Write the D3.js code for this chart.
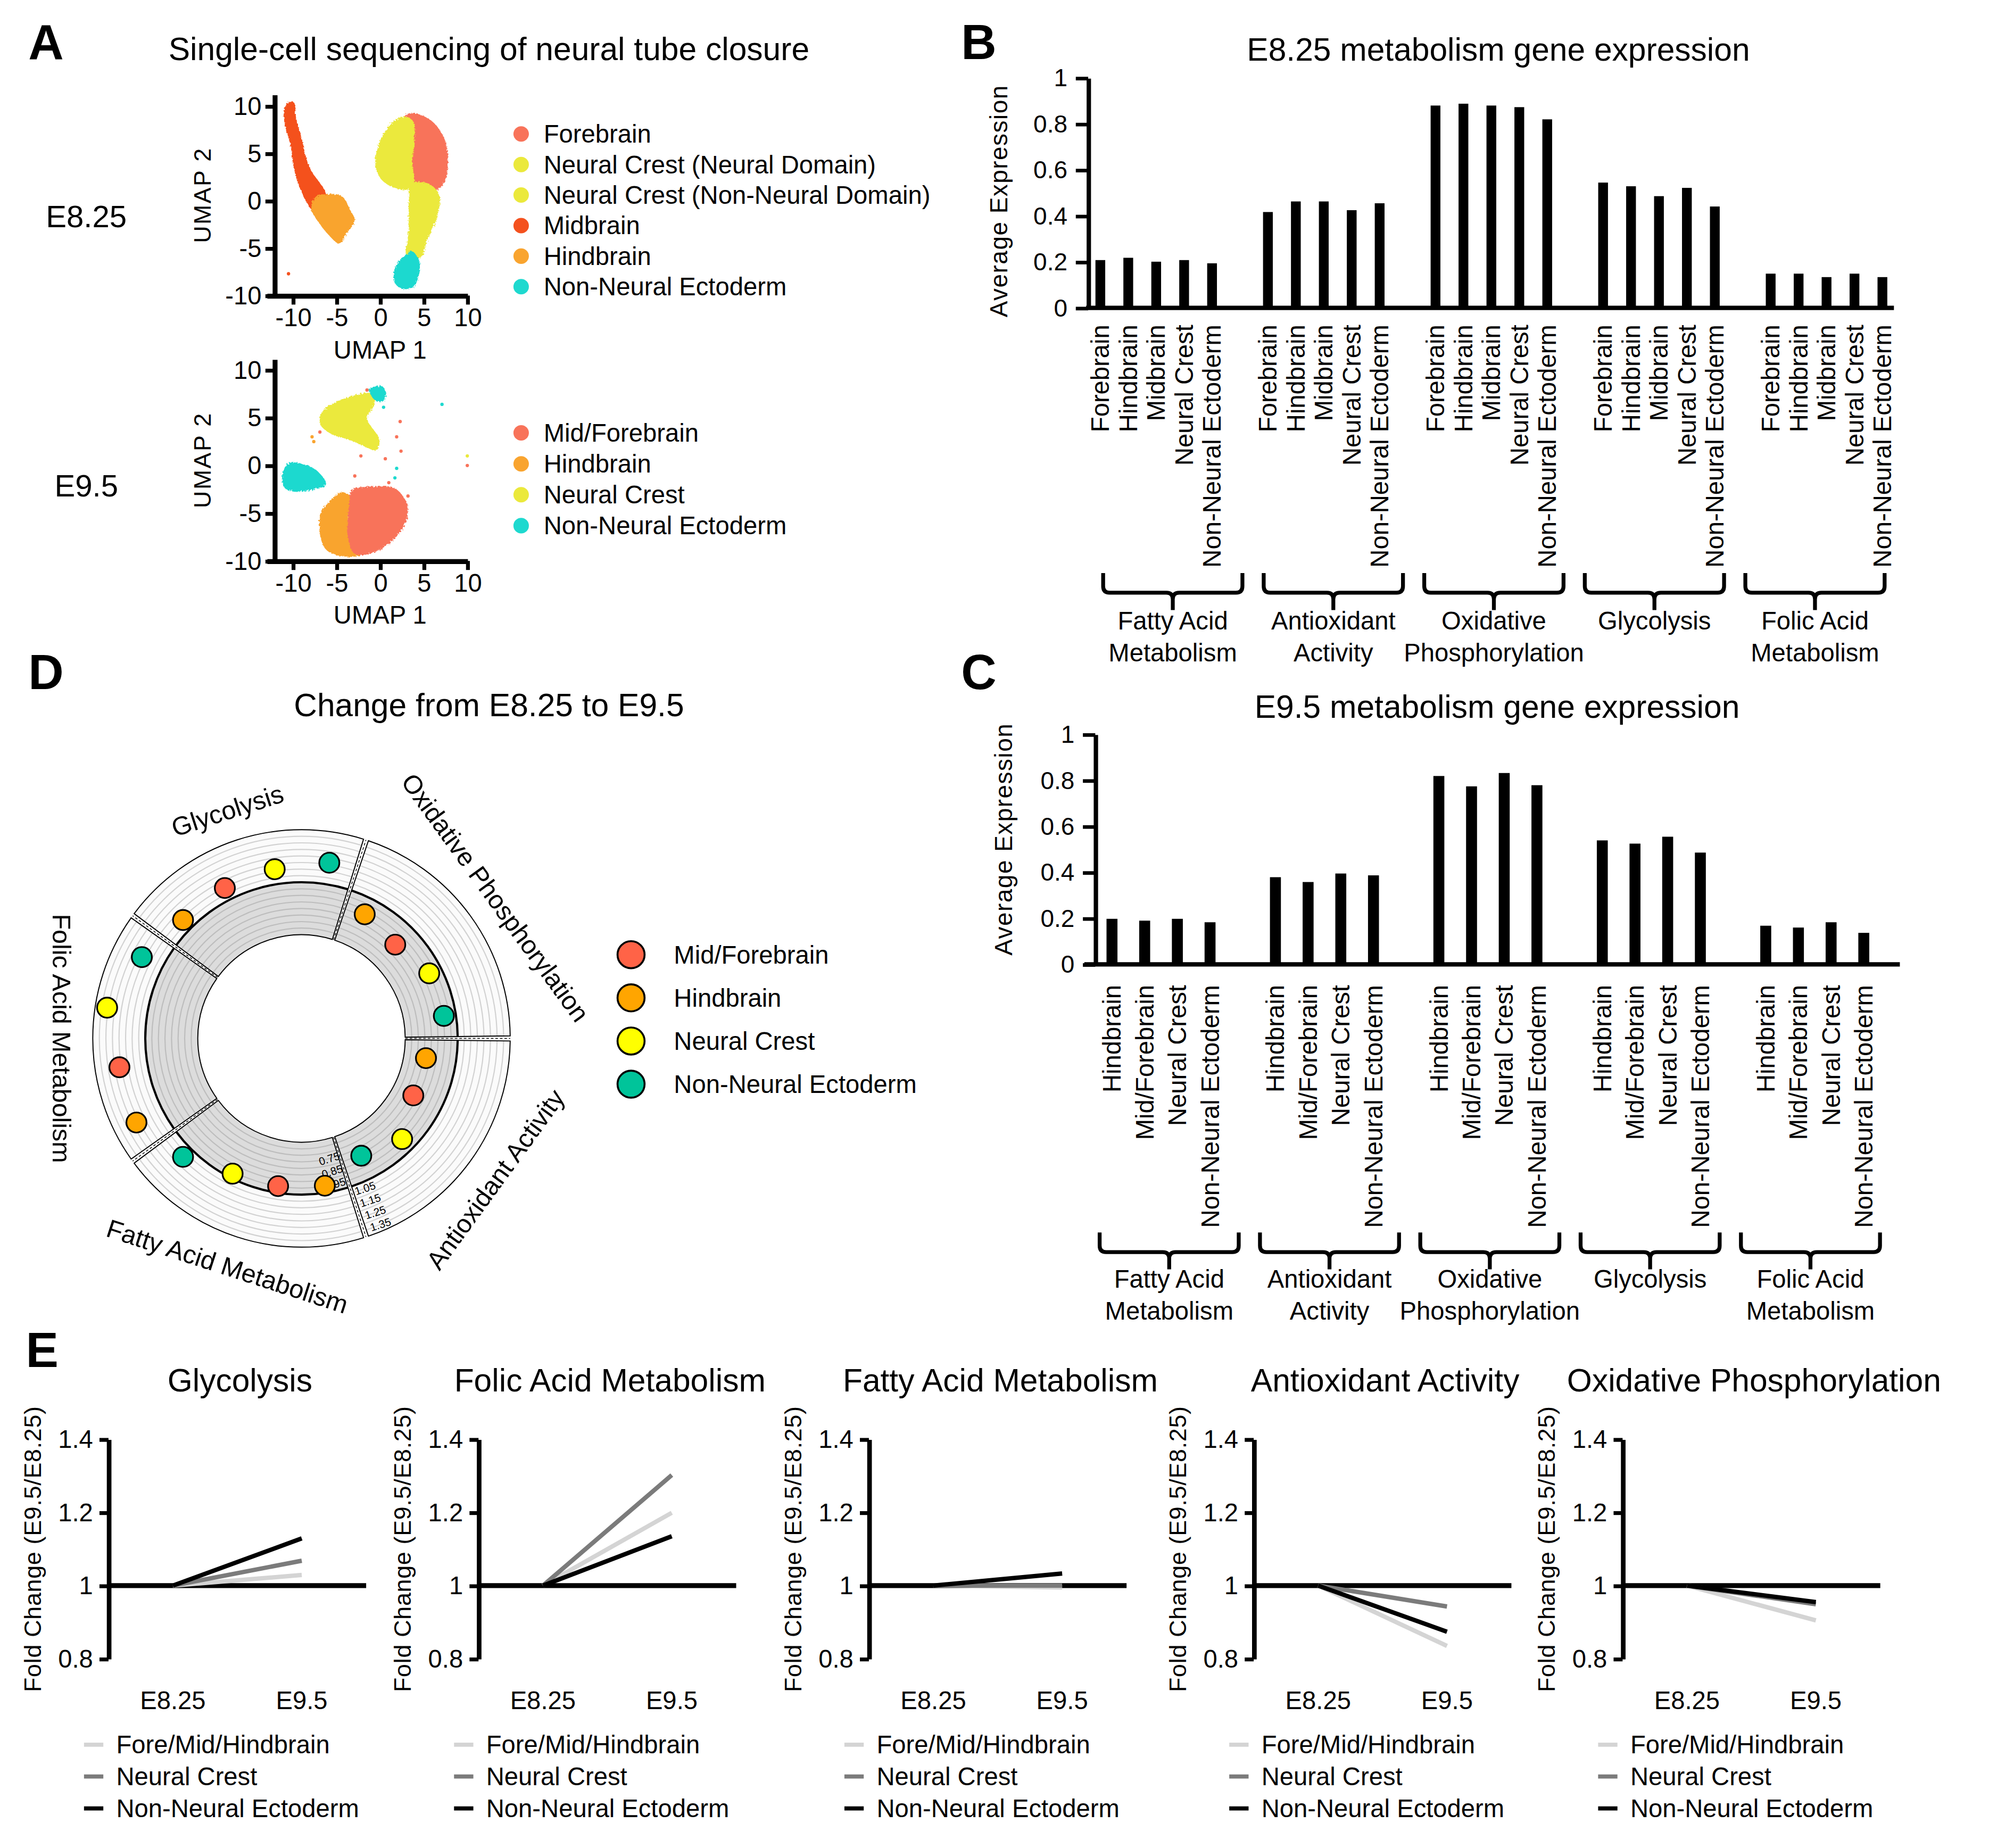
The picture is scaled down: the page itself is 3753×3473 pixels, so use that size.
<!DOCTYPE html>
<html>
<head>
<meta charset="utf-8">
<script src="https://cdn.jsdelivr.net/npm/d3@7"></script>
<style>
  body { margin: 0; background: #fff; }
  svg text { font-family: "Liberation Sans", Arial, Helvetica, sans-serif; fill: #000; }
</style>
</head>
<body>
<svg id="fig"></svg>
<script>
// ---------- data ----------

// A: UMAP
var umapTicks = [-10, -5, 0, 5, 10];
var e825Types = ["Forebrain", "Neural Crest (Neural Domain)", "Neural Crest (Non-Neural Domain)", "Midbrain", "Hindbrain", "Non-Neural Ectoderm"];
var e95Types = ["Mid/Forebrain", "Hindbrain", "Neural Crest", "Non-Neural Ectoderm"];

// cluster outlines in UMAP units
var e825Clusters = [
  {type: "Midbrain", pts: [[-10.5,10.4],[-9.9,10.4],[-9.6,8.6],[-9.0,6.6],[-8.5,4.6],[-7.9,3.2],[-7.0,2.0],[-6.3,1.0],[-6.2,0.0],[-6.8,-0.8],[-7.7,-1.0],[-8.5,0.0],[-9.3,1.6],[-9.9,3.6],[-10.3,6.0],[-10.9,8.0],[-11.0,9.6]]},
  {type: "Hindbrain", pts: [[-7.4,0.4],[-6.0,0.7],[-4.4,0.5],[-3.4,-1.0],[-2.9,-2.1],[-3.8,-3.4],[-4.7,-4.5],[-5.8,-3.7],[-7.1,-2.2],[-7.9,-0.8]]},
  {type: "Forebrain", pts: [[3.2,9.2],[4.6,9.1],[6.2,8.2],[7.4,6.5],[7.8,4.5],[7.6,2.6],[6.9,1.4],[5.4,0.9],[3.8,1.2],[2.6,2.0],[2.0,4.5],[2.1,7.0],[2.4,8.4]]},
  {type: "Neural Crest (Non-Neural Domain)", pts: [[3.6,1.8],[5.6,1.8],[6.8,0.6],[6.6,-1.5],[6.0,-3.0],[5.3,-4.5],[4.8,-5.8],[3.8,-6.3],[3.0,-5.8],[3.2,-4.0],[3.3,-2.0],[3.3,0.0]]},
  {type: "Neural Crest (Neural Domain)", pts: [[1.6,8.4],[2.8,8.9],[3.8,8.4],[3.9,6.0],[3.7,4.0],[3.9,2.0],[3.2,1.2],[1.6,1.4],[0.2,2.2],[-0.5,3.5],[-0.4,5.2],[0.2,6.8]]},
  {type: "Non-Neural Ectoderm", pts: [[3.6,-5.3],[4.5,-6.3],[4.4,-8.0],[3.8,-9.1],[2.6,-9.3],[1.7,-8.7],[1.6,-7.5],[2.2,-6.3],[3.0,-5.7]]}
];
var e825Strays = [{type: "Midbrain", x: -10.5, y: -7.7}];

var e95Clusters = [
  {type: "Neural Crest", pts: [[-1.2,7.6],[-0.6,7.4],[-0.8,6.1],[-1.5,4.9],[-0.8,3.8],[-0.1,2.8],[-0.4,1.6],[-1.8,2.0],[-3.3,2.6],[-5.8,3.4],[-6.9,4.4],[-6.6,5.7],[-4.4,6.9]]},
  {type: "Non-Neural Ectoderm", pts: [[-1.2,8.0],[0.2,8.3],[0.7,7.5],[0.3,6.7],[-0.5,6.8],[-1.0,7.3]]},
  {type: "Non-Neural Ectoderm", pts: [[-10.4,0.3],[-9.1,0.2],[-7.3,-0.5],[-6.2,-2.0],[-7.6,-2.5],[-9.8,-2.7],[-10.9,-2.4],[-11.2,-0.9]]},
  {type: "Hindbrain", pts: [[-4.4,-2.8],[-3.3,-3.4],[-3.7,-5.5],[-3.3,-7.5],[-2.2,-9.3],[-4.4,-9.5],[-6.2,-8.8],[-6.9,-7.1],[-6.8,-5.0],[-5.8,-3.8]]},
  {type: "Mid/Forebrain", pts: [[-3.3,-2.6],[-0.4,-2.2],[1.7,-2.4],[3.0,-3.8],[3.2,-5.0],[2.5,-6.7],[0.7,-8.4],[-1.5,-9.3],[-3.0,-9.2],[-3.7,-7.5],[-3.7,-5.5],[-3.5,-3.8]]}
];
var e95Strays = [
  {type: "Mid/Forebrain", x: -1.5, y: 7.9}, {type: "Mid/Forebrain", x: 2.3, y: 4.6},
  {type: "Mid/Forebrain", x: 1.9, y: 3.0}, {type: "Mid/Forebrain", x: 2.4, y: 1.5},
  {type: "Mid/Forebrain", x: -2.2, y: 1.0}, {type: "Mid/Forebrain", x: 0.6, y: 0.7},
  {type: "Mid/Forebrain", x: -6.9, y: 3.5}, {type: "Hindbrain", x: -7.8, y: 3.0},
  {type: "Hindbrain", x: -7.6, y: 2.5}, {type: "Mid/Forebrain", x: 10.0, y: 0.0},
  {type: "Neural Crest", x: 10.0, y: 1.0}, {type: "Non-Neural Ectoderm", x: 7.1, y: 6.4},
  {type: "Non-Neural Ectoderm", x: 1.9, y: -0.3}, {type: "Non-Neural Ectoderm", x: 1.7, y: -1.3},
  {type: "Mid/Forebrain", x: -2.9, y: -1.1}, {type: "Mid/Forebrain", x: 1.0, y: -1.8},
  {type: "Mid/Forebrain", x: 3.2, y: -3.2}, {type: "Non-Neural Ectoderm", x: 0.4, y: 6.1}
];

// B / C: average expression bars
var barPathways = ["Fatty Acid Metabolism", "Antioxidant Activity", "Oxidative Phosphorylation", "Glycolysis", "Folic Acid Metabolism"];
var barPathwayLines = [["Fatty Acid", "Metabolism"], ["Antioxidant", "Activity"], ["Oxidative", "Phosphorylation"], ["Glycolysis"], ["Folic Acid", "Metabolism"]];
var expTicks = [0, 0.2, 0.4, 0.6, 0.8, 1];

var e825BarCats = ["Forebrain", "Hindbrain", "Midbrain", "Neural Crest", "Non-Neural Ectoderm"];
var e825Fatty  = [0.208, 0.218, 0.201, 0.208, 0.194];
var e825Antiox = [0.417, 0.463, 0.463, 0.425, 0.455];
var e825OxPhos = [0.880, 0.888, 0.880, 0.873, 0.820];
var e825Glyco  = [0.545, 0.529, 0.486, 0.522, 0.441];
var e825Folic  = [0.149, 0.149, 0.134, 0.149, 0.134];

var e95BarCats = ["Hindbrain", "Mid/Forebrain", "Neural Crest", "Non-Neural Ectoderm"];
var e95Fatty  = [0.198, 0.190, 0.198, 0.183];
var e95Antiox = [0.379, 0.358, 0.395, 0.387];
var e95OxPhos = [0.819, 0.774, 0.832, 0.779];
var e95Glyco  = [0.539, 0.525, 0.555, 0.486];
var e95Folic  = [0.168, 0.160, 0.183, 0.137];

// D: radial fold-change plot
var radialSectors = ["Oxidative Phosphorylation", "Antioxidant Activity", "Fatty Acid Metabolism", "Folic Acid Metabolism", "Glycolysis"];
var radialTypes = ["Hindbrain", "Mid/Forebrain", "Neural Crest", "Non-Neural Ectoderm"];
var radialLegend = ["Mid/Forebrain", "Hindbrain", "Neural Crest", "Non-Neural Ectoderm"];
var radialOxPhos = [0.871, 0.820, 0.902, 0.908];
var radialAntiox = [0.770, 0.766, 0.894, 0.813];
var radialFatty  = [0.946, 0.949, 0.966, 1.086];
var radialFolic  = [1.221, 1.214, 1.309, 1.175];
var radialGlyco  = [1.086, 1.096, 1.115, 1.165];
var radialTicks = [0.75, 0.85, 0.95, 1.05, 1.15, 1.25, 1.35];

// E: fold change lines
var stages = ["E8.25", "E9.5"];
var foldPanels = ["Glycolysis", "Folic Acid Metabolism", "Fatty Acid Metabolism", "Antioxidant Activity", "Oxidative Phosphorylation"];
var foldSeries = ["Fore/Mid/Hindbrain", "Neural Crest", "Non-Neural Ectoderm"];
var foldGlyco  = [[1, 1.029], [1, 1.068], [1, 1.129]];
var foldFolic  = [[1, 1.199], [1, 1.302], [1, 1.135]];
var foldFatty  = [[1, 0.995], [1, 1.000], [1, 1.033]];
var foldAntiox = [[1, 0.835], [1, 0.943], [1, 0.874]];
var foldOxPhos = [[1, 0.905], [1, 0.949], [1, 0.955]];
var foldTicks = [0.8, 1, 1.2, 1.4];

// ---------- styles ----------
var umapColor = {
  "Forebrain": "#F8735A", "Mid/Forebrain": "#F8735A",
  "Neural Crest (Neural Domain)": "#EBE93C", "Neural Crest (Non-Neural Domain)": "#EBE93C", "Neural Crest": "#EBE93C",
  "Midbrain": "#F4511E", "Hindbrain": "#F9A42F", "Non-Neural Ectoderm": "#1ED9CF"
};
var dotColor = {"Mid/Forebrain": "#FF6347", "Hindbrain": "#FFA500", "Neural Crest": "#FFFF00", "Non-Neural Ectoderm": "#00C49A"};
var foldColor = ["#d4d4d4", "#7b7b7b", "#000000"];

// ---------- canvas ----------
var W = 1550, H = 3473 / (3753 / 1550);
var svg = d3.select("#fig").attr("width", 3753).attr("height", 3473)
  .attr("viewBox", "0 0 " + W + " " + H);
svg.append("rect").attr("width", W).attr("height", H).attr("fill", "#fff");

var defs = svg.append("defs");
var rough = defs.append("filter").attr("id", "rough").attr("x", "-10%").attr("y", "-10%").attr("width", "120%").attr("height", "120%");
rough.append("feTurbulence").attr("type", "fractalNoise").attr("baseFrequency", 0.8).attr("numOctaves", 2).attr("result", "n");
rough.append("feDisplacementMap").attr("in", "SourceGraphic").attr("in2", "n").attr("scale", 3);

function txt(x, y, s, size, opts) {
  opts = opts || {};
  var t = svg.append("text").attr("x", x).attr("y", y).style("font-size", size + "px").text(s);
  if (opts.anchor) t.attr("text-anchor", opts.anchor);
  if (opts.bold) t.style("font-weight", "bold");
  if (opts.dy) t.attr("dy", opts.dy);
  if (opts.rotate !== undefined) t.attr("transform", "rotate(" + opts.rotate + "," + x + "," + y + ")");
  if (opts.spacing) t.style("letter-spacing", opts.spacing + "px");
  return t;
}

function styleAxis(sel, domainW, tickW, size) {
  sel.attr("font-size", null).attr("font-family", null);
  sel.select(".domain").attr("stroke-width", domainW);
  sel.selectAll(".tick line").attr("stroke-width", tickW);
  sel.selectAll(".tick text").style("font-size", size + "px").attr("fill", "#000");
}

// panel letters & titles
txt(22, 46, "A", 38, {bold: true});
txt(746, 46, "B", 38, {bold: true});
txt(746, 535, "C", 38, {bold: true});
txt(22, 535, "D", 38, {bold: true});
txt(20, 1061, "E", 38, {bold: true});
txt(379.5, 46.5, "Single-cell sequencing of neural tube closure", 25, {anchor: "middle"});
txt(1163, 47, "E8.25 metabolism gene expression", 25, {anchor: "middle"});
txt(1162, 557, "E9.5 metabolism gene expression", 25, {anchor: "middle"});
txt(379.5, 556, "Change from E8.25 to E9.5", 25, {anchor: "middle"});

// ---------- A: UMAP ----------
function umapPlot(cfg) {
  var g = svg.append("g");
  var x = d3.scaleLinear().domain([-13, 10]).range([207, 362.7]);
  var y = d3.scaleLinear().domain([-10, cfg.yMax]).range([cfg.y0, cfg.yTop]);
  var line = d3.line().x(function(d) { return x(d[0]); }).y(function(d) { return y(d[1]); })
    .curve(d3.curveCatmullRomClosed.alpha(0.5));

  var clouds = g.append("g").attr("filter", "url(#rough)");
  clouds.selectAll("path").data(cfg.clusters).enter().append("path")
    .attr("d", function(d) { return line(d.pts); })
    .attr("fill", function(d) { return umapColor[d.type]; });
  g.selectAll("circle.stray").data(cfg.strays).enter().append("circle")
    .attr("cx", function(d) { return x(d.x); }).attr("cy", function(d) { return y(d.y); })
    .attr("r", 1.3).attr("fill", function(d) { return umapColor[d.type]; });

  var xa = g.append("g").attr("transform", "translate(0," + cfg.y0 + ")")
    .call(d3.axisBottom(x).tickValues(umapTicks).tickSize(7).tickSizeOuter(0).tickPadding(3)
      .tickFormat(function(d) { return String(d); }));
  styleAxis(xa, 3.8, 3, 19.5);
  var ya = g.append("g").attr("transform", "translate(213,0)")
    .call(d3.axisLeft(y).tickValues(umapTicks).tickSize(7).tickSizeOuter(0).tickPadding(3)
      .tickFormat(function(d) { return String(d); }));
  styleAxis(ya, 3.8, 3, 19.5);

  txt(295, cfg.y0 + 42, "UMAP 1", 19.5, {anchor: "middle", dy: "0.35em"});
  txt(157, (cfg.y0 + cfg.yTop) / 2, "UMAP 2", 18.5, {anchor: "middle", dy: "0.35em", rotate: -90, spacing: 1});
  txt(67, cfg.stageY, cfg.stage, 24, {anchor: "middle", dy: "0.35em"});

  cfg.types.forEach(function(t, i) {
    var yy = cfg.legY + i * cfg.legStep;
    svg.append("circle").attr("cx", 404.5).attr("cy", yy).attr("r", 6).attr("fill", umapColor[t]);
    txt(422, yy, t, 19.5, {dy: "0.35em"});
  });
}

umapPlot({clusters: e825Clusters, strays: e825Strays, types: e825Types, stage: "E8.25", stageY: 168,
  y0: 229.4, yTop: 73.4, yMax: 11.22, legY: 104, legStep: 23.7});
umapPlot({clusters: e95Clusters, strays: e95Strays, types: e95Types, stage: "E9.5", stageY: 377,
  y0: 435.4, yTop: 278.8, yMax: 11.13, legY: 336, legStep: 24});

// ---------- B / C: bar charts ----------
function bracePath(x0, x1, top, bar, tip) {
  var m = (x0 + x1) / 2, c = 5;
  return "M" + x0 + "," + top + "L" + x0 + "," + (bar - c) + "Q" + x0 + "," + bar + " " + (x0 + c) + "," + bar +
    "L" + (m - c) + "," + bar + "Q" + m + "," + bar + " " + m + "," + (bar + c) + "L" + m + "," + tip +
    "M" + m + "," + (bar + c) + "Q" + m + "," + bar + " " + (m + c) + "," + bar +
    "L" + (x1 - c) + "," + bar + "Q" + x1 + "," + bar + " " + x1 + "," + (bar - c) + "L" + x1 + "," + top;
}

function barChart(cfg) {
  var g = svg.append("g");
  var keys = [];
  barPathways.forEach(function(p, gi) {
    cfg.cats.forEach(function(c) { keys.push(p + "|" + c); });
    if (gi < barPathways.length - 1) keys.push("gap" + gi);
  });
  var x = d3.scaleBand().domain(keys).range(cfg.band).paddingInner(cfg.pad).paddingOuter(cfg.pad / 2);
  var y = d3.scaleLinear().domain([0, 1]).range(cfg.yRange);

  var rows = [];
  barPathways.forEach(function(p, gi) {
    cfg.values[gi].forEach(function(v, ci) {
      rows.push({key: p + "|" + cfg.cats[ci], cat: cfg.cats[ci], v: v});
    });
  });

  g.selectAll("rect.bar").data(rows).enter().append("rect")
    .attr("x", function(d) { return x(d.key); })
    .attr("width", x.bandwidth())
    .attr("y", function(d) { return y(d.v); })
    .attr("height", function(d) { return y(0) - y(d.v); })
    .attr("fill", "#000");

  g.append("line").attr("x1", cfg.axisX[0]).attr("x2", cfg.axisX[1])
    .attr("y1", y(0)).attr("y2", y(0)).attr("stroke", "#000").attr("stroke-width", 3.4);
  var ya = g.append("g").attr("transform", "translate(" + cfg.yAxisX + ",0)")
    .call(d3.axisLeft(y).tickValues(expTicks).tickFormat(d3.format("~g"))
      .tickSize(9.6).tickSizeOuter(0).tickPadding(6.5));
  styleAxis(ya, 3.4, 2.8, 19);

  g.selectAll("text.cat").data(rows).enter().append("text")
    .attr("transform", function(d) {
      return "translate(" + (x(d.key) + x.bandwidth() / 2) + "," + cfg.labelTop + ") rotate(-90)";
    })
    .attr("text-anchor", "end").attr("dy", "0.35em").style("font-size", "19.5px")
    .text(function(d) { return d.cat; });

  var bx = d3.scaleBand().domain(barPathways).range(cfg.brace).paddingInner(0.1325).paddingOuter(0.066);
  barPathways.forEach(function(p, gi) {
    var x0 = bx(p), x1 = x0 + bx.bandwidth(), m = (x0 + x1) / 2;
    g.append("path").attr("d", bracePath(x0, x1, cfg.braceTop, cfg.braceBar, cfg.braceTip))
      .attr("fill", "none").attr("stroke", "#000").attr("stroke-width", 3);
    barPathwayLines[gi].forEach(function(l, li) {
      txt(m, cfg.groupBase + li * 25, l, 19.5, {anchor: "middle"});
    });
  });

  txt(cfg.ylab[0], cfg.ylab[1], "Average Expression", 19, {anchor: "middle", dy: "0.35em", rotate: -90, spacing: 0.6});
}

barChart({cats: e825BarCats, values: [e825Fatty, e825Antiox, e825OxPhos, e825Glyco, e825Folic],
  band: [843.2, 1471.9], pad: 0.65, yRange: [239, 60.5], axisX: [843, 1470], yAxisX: 844.6,
  labelTop: 252, brace: [848, 1471], braceTop: 444.8, braceBar: 460, braceTip: 473.5,
  groupBase: 488.5, ylab: [775, 156]});
barChart({cats: e95BarCats, values: [e95Fatty, e95Antiox, e95OxPhos, e95Glyco, e95Folic],
  band: [850.4, 1459.3], pad: 0.665, yRange: [748.5, 570], axisX: [841.6, 1474.6], yAxisX: 850.1,
  labelTop: 764.5, brace: [845.3, 1467.4], braceTop: 956.6, braceBar: 971.8, braceTip: 985.2,
  groupBase: 999.4, ylab: [779, 651.4]});

// ---------- D: radial plot ----------
(function() {
  var cx = 234, cy = 806;
  var g = svg.append("g").attr("transform", "translate(" + cx + "," + cy + ")");
  var deg = Math.PI / 180;
  var r = d3.scaleLinear().domain([0.6, 1.4]).range([80.5, 162]);
  var ang = d3.scaleBand().domain(radialSectors).range([18 * deg, 378 * deg]);
  var inner = d3.scaleBand().domain(radialTypes).range([0, ang.bandwidth()]);
  var gap = 1.4 * deg;
  var arc = d3.arc();
  var values = [radialOxPhos, radialAntiox, radialFatty, radialFolic, radialGlyco];

  function arcLine(rad, a0, a1) {
    var p = d3.path();
    p.arc(0, 0, rad, a0 - Math.PI / 2, a1 - Math.PI / 2);
    return p.toString();
  }

  radialSectors.forEach(function(s) {
    var a0 = ang(s) + gap / 2, a1 = ang(s) + ang.bandwidth() - gap / 2;
    g.append("path").attr("d", arc({innerRadius: r(1), outerRadius: r(1.4), startAngle: a0, endAngle: a1}))
      .attr("fill", "#fbfbfb");
    g.append("path").attr("d", arc({innerRadius: r(0.6), outerRadius: r(1), startAngle: a0, endAngle: a1}))
      .attr("fill", "#dcdcdc");
    r.ticks(16).forEach(function(t) {
      if (t < 0.62 || t > 1.38 || Math.abs(t - 1) < 1e-6) return;
      g.append("path").attr("d", arcLine(r(t), a0, a1)).attr("fill", "none")
        .attr("stroke", t < 1 ? "#bdbdbd" : "#d2d2d2").attr("stroke-width", 0.9);
    });
    g.append("path").attr("d", arc({innerRadius: r(0.6), outerRadius: r(1.4), startAngle: a0, endAngle: a1}))
      .attr("fill", "none").attr("stroke", "#000").attr("stroke-width", 0.8);
    g.append("path").attr("d", arcLine(r(1), a0, a1)).attr("fill", "none")
      .attr("stroke", "#000").attr("stroke-width", 1.7);
    // dashed seam between sectors
    var b = ang(s);
    g.append("line")
      .attr("x1", r(0.6) * Math.sin(b)).attr("y1", -r(0.6) * Math.cos(b))
      .attr("x2", r(1.4) * Math.sin(b)).attr("y2", -r(1.4) * Math.cos(b))
      .attr("stroke", "#000").attr("stroke-width", 0.6).attr("stroke-dasharray", "2,1.5");
  });

  // radial tick labels along the Antioxidant / Fatty Acid seam
  var seam = ang("Fatty Acid Metabolism");
  radialTicks.forEach(function(t) {
    var a = seam + (t < 1 ? 5 : -5) * deg;
    var px = r(t) * Math.sin(a), py = -r(t) * Math.cos(a);
    g.append("text").attr("transform", "translate(" + px + "," + py + ") rotate(" + (seam / deg - 180) + ")")
      .attr("text-anchor", "middle").attr("dy", "0.35em").style("font-size", "8.5px").text(t.toFixed(2));
  });

  // dots
  radialSectors.forEach(function(s, si) {
    radialTypes.forEach(function(t, ti) {
      var a = ang(s) + inner(t) + inner.bandwidth() / 2;
      var rr = r(values[si][ti]);
      g.append("circle").attr("cx", rr * Math.sin(a)).attr("cy", -rr * Math.cos(a)).attr("r", 7.8)
        .attr("fill", dotColor[t]).attr("stroke", "#000").attr("stroke-width", 1.3);
    });
  });

  // sector names, tangent to the ring
  radialSectors.forEach(function(s) {
    var mid = ang(s) + ang.bandwidth() / 2;
    var d = mid / deg;
    var rot = (d > 90 && d <= 270) ? d - 180 : d;
    var px = 186 * Math.sin(mid), py = -186 * Math.cos(mid);
    g.append("text").attr("transform", "translate(" + px + "," + py + ") rotate(" + rot + ")")
      .attr("text-anchor", "middle").attr("dy", "0.35em").style("font-size", "20px").text(s);
  });

  // legend
  radialLegend.forEach(function(t, i) {
    var yy = 741 + i * 33.5;
    svg.append("circle").attr("cx", 489.8).attr("cy", yy).attr("r", 10.5)
      .attr("fill", dotColor[t]).attr("stroke", "#000").attr("stroke-width", 1.5);
    txt(523, yy, t, 19.5, {dy: "0.35em"});
  });
})();

// ---------- E: fold change ----------
var foldAxisX = [84.2, 371.4, 674.4, 973.1, 1259.4];
var foldData = [foldGlyco, foldFolic, foldFatty, foldAntiox, foldOxPhos];
foldPanels.forEach(function(name, i) {
  var ax = foldAxisX[i];
  var g = svg.append("g");
  var y = d3.scaleLinear().domain([0.8, 1.4]).range([1287.5, 1117.1]);
  var x = d3.scalePoint().domain(stages).range([ax + 50, ax + 150]);

  var ya = g.append("g").attr("transform", "translate(" + ax + ",0)")
    .call(d3.axisLeft(y).tickValues(foldTicks).tickFormat(d3.format("~g")).tickSize(7).tickSizeOuter(0).tickPadding(5));
  styleAxis(ya, 3.6, 3, 19.5);

  g.append("line").attr("x1", ax).attr("x2", ax + 200).attr("y1", y(1)).attr("y2", y(1))
    .attr("stroke", "#000").attr("stroke-width", 3.8);

  var line = d3.line().x(function(d, k) { return x(stages[k]); }).y(function(d) { return y(d); });
  g.selectAll("path.series").data(foldData[i]).enter().append("path")
    .attr("d", line).attr("fill", "none")
    .attr("stroke", function(d, j) { return foldColor[j]; }).attr("stroke-width", 3.4);

  stages.forEach(function(s) { txt(x(s), 1326.6, s, 19.5, {anchor: "middle"}); });
  txt(ax + 102, 1080, name, 25, {anchor: "middle"});
  txt(ax - 59, 1202.3, "Fold Change (E9.5/E8.25)", 18.5, {anchor: "middle", dy: "0.35em", rotate: -90, spacing: 0.3});

  foldSeries.forEach(function(s, j) {
    var yy = 1354.2 + j * 24.7;
    g.append("line").attr("x1", ax - 19).attr("x2", ax - 4).attr("y1", yy).attr("y2", yy)
      .attr("stroke", foldColor[j]).attr("stroke-width", 3.2);
    txt(ax + 6, yy, s, 19.5, {dy: "0.35em"});
  });
});
</script>
</body>
</html>
